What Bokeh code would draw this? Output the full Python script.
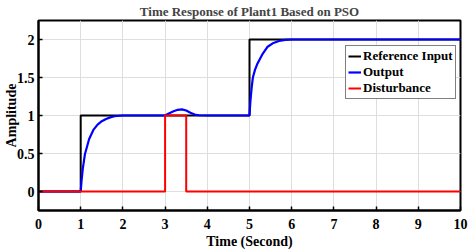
from bokeh.plotting import figure
from bokeh.models import Range1d, Legend, LegendItem, FixedTicker
from bokeh.embed import file_html
from bokeh.resources import INLINE

# ---- data ----
t_ref = [0, 1, 1, 5, 5, 10]
ref = [0, 0, 1, 1, 2, 2]

t_out = [0, 1.0, 1.02, 1.05, 1.1, 1.2, 1.3, 1.4, 1.5, 1.6, 1.7, 1.8, 2.0,
         3.0, 3.1, 3.2, 3.3, 3.4, 3.5, 3.6, 3.7, 3.8, 4.0,
         5.0, 5.02, 5.05, 5.08, 5.13, 5.19, 5.3, 5.43, 5.55, 5.7, 5.85, 6.0, 10.0]
y_out = [0, 0.0, 0.14, 0.3, 0.49, 0.69, 0.81, 0.88, 0.925, 0.955, 0.975, 0.99, 1.0,
         1.0, 1.03, 1.055, 1.075, 1.08, 1.065, 1.035, 1.012, 1.003, 1.0,
         1.0, 1.18, 1.36, 1.5, 1.6, 1.685, 1.8, 1.905, 1.95, 1.98, 1.995, 2.0, 2.0]

t_dist = [0, 3, 3, 3.5, 3.5, 10]
dist = [0, 0, 1, 1, 0, 0]

x_ticks = [0, 1, 2, 3, 4, 5, 6, 7, 8, 9, 10]
y_ticks = [0, 0.5, 1, 1.5, 2]

FONT = "Liberation Serif"

p = figure(width=469, height=251, output_backend="svg", toolbar_location=None,
           x_range=Range1d(0, 10), y_range=Range1d(-0.25, 2.25),
           title="Time Response of Plant1 Based on PSO",
           min_border_left=37, min_border_right=9, min_border_top=0, min_border_bottom=0)

p.title.text_font = FONT
p.title.text_font_size = "13px"
p.title.text_font_style = "bold"
p.title.align = "center"
p.title.standoff = 3
p.title.offset = 0

p.outline_line_color = "black"
p.outline_line_width = 2
p.outline_line_alpha = 1

bx = p.below[0]
ly = p.left[0]
for ax in (bx, ly):
    ax.axis_line_width = 2
    ax.axis_line_color = "black"
    ax.major_tick_in = 4
    ax.major_tick_out = 0
    ax.minor_tick_line_color = None
    ax.major_tick_line_color = "black"
    ax.major_tick_line_width = 1.5
    ax.major_label_text_font = FONT
    ax.major_label_text_font_style = "bold"
    ax.major_label_text_font_size = "14px"
    ax.major_label_text_color = "black"
    ax.axis_label_text_font = FONT
    ax.axis_label_text_font_style = "bold"
    ax.axis_label_text_font_size = "14px"
    ax.axis_label_text_color = "black"

bx.ticker = FixedTicker(ticks=x_ticks)
ly.ticker = FixedTicker(ticks=y_ticks)
ly.major_label_overrides = {0: "0", 0.5: "0.5", 1: "1", 1.5: "1.5", 2: "2"}
bx.axis_label = "Time (Second)"
ly.axis_label = "Amplitude"
bx.major_label_standoff = 8
bx.axis_label_standoff = 2
ly.major_label_standoff = 4
ly.axis_label_standoff = -5

p.xgrid.ticker = FixedTicker(ticks=x_ticks)
p.ygrid.ticker = FixedTicker(ticks=y_ticks)
p.grid.grid_line_color = "#dedede"
p.grid.grid_line_width = 1

r_ref = p.line(t_ref, ref, line_color="black", line_width=2)
r_out = p.line(t_out, y_out, line_color="#0000ff", line_width=2.2)
r_dist = p.line(t_dist, dist, line_color="#ff0000", line_width=2)

legend = Legend(items=[LegendItem(label="Reference Input", renderers=[r_ref]),
                       LegendItem(label="Output", renderers=[r_out]),
                       LegendItem(label="Disturbance", renderers=[r_dist])],
                location=(307, 111))
legend.label_text_font = FONT
legend.label_text_font_style = "bold"
legend.label_text_font_size = "13px"
legend.label_text_color = "black"
legend.label_standoff = 2
legend.label_height = 14
legend.glyph_width = 13
legend.glyph_height = 14
legend.spacing = 0
legend.padding = 2
legend.margin = 0
legend.border_line_color = "black"
legend.border_line_width = 1.5
legend.background_fill_alpha = 1
p.add_layout(legend)

open("out.html", "w").write(file_html(p, INLINE))
